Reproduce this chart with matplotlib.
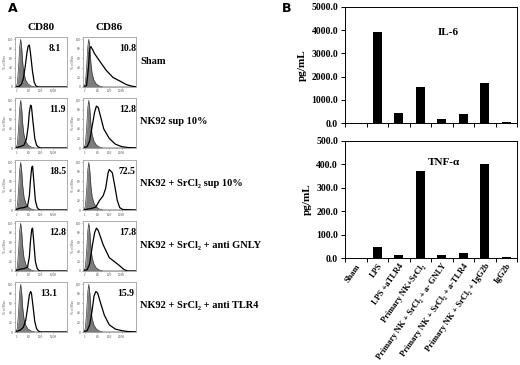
import numpy as np
import matplotlib
matplotlib.use("Agg")
import matplotlib.pyplot as plt

SERIF = ['Liberation Serif', 'DejaVu Serif']
plt.rcParams['font.family'] = SERIF

# ---------------- Panel A data (flow histograms) ----------------
markers = ["CD80", "CD86"]
conditions = ["Sham", "NK92 sup 10%", "NK92 + SrCl\u2082 sup 10%",
              "NK92 + SrCl\u2082 + anti GNLY", "NK92 + SrCl\u2082 + anti TLR4"]
pct_cd80 = ["8.1", "11.9", "18.5", "12.8", "13.1"]
pct_cd86 = ["10.8", "12.8", "72.5", "17.8", "15.9"]

# decade positions (log10 of fluorescence) and % of max
iso_dec = [-0.2, -0.02, 0.05, 0.15, 0.25, 0.33, 0.42, 0.5, 0.6, 0.75, 0.95, 1.2, 1.5, 4.3]
iso_pct = [0, 2, 8, 40, 85, 100, 80, 50, 28, 14, 6, 2, 0, 0]

cd80_dec = [
    [-0.2, 0.2, 0.4, 0.55, 0.7, 0.85, 0.95, 1.05, 1.15, 1.3, 1.45, 1.6, 1.8, 4.3],
    [-0.2, 0.3, 0.6, 0.8, 0.95, 1.05, 1.15, 1.22, 1.35, 1.5, 1.65, 1.8, 2.0, 4.3],
    [-0.2, 0.3, 0.6, 0.9, 1.05, 1.15, 1.25, 1.32, 1.42, 1.55, 1.7, 1.85, 2.0, 4.3],
    [-0.2, 0.3, 0.6, 0.9, 1.05, 1.15, 1.25, 1.32, 1.42, 1.55, 1.7, 1.85, 2.0, 4.3],
    [-0.2, 0.3, 0.55, 0.75, 0.9, 1.05, 1.15, 1.22, 1.35, 1.5, 1.65, 1.8, 2.0, 4.3],
]
cd80_pct = [
    [0, 1, 6, 18, 42, 72, 86, 88, 70, 35, 10, 2, 0, 0],
    [0, 3, 6, 18, 45, 75, 90, 88, 55, 20, 6, 2, 0, 0],
    [0, 4, 5, 8, 30, 65, 90, 92, 60, 20, 5, 1, 0, 0],
    [0, 4, 5, 8, 30, 65, 88, 90, 60, 20, 5, 1, 0, 0],
    [0, 4, 10, 25, 50, 78, 85, 82, 55, 22, 7, 2, 0, 0],
]
cd86_dec = [
    [-0.2, 0.15, 0.3, 0.4, 0.5, 0.65, 0.8, 1.2, 1.75, 2.3, 2.9, 3.4, 3.8, 4.3],
    [-0.2, 0.2, 0.4, 0.6, 0.8, 0.95, 1.1, 1.3, 1.55, 2.0, 2.5, 3.0, 3.5, 4.3],
    [-0.2, 0.5, 0.9, 1.2, 1.5, 1.7, 1.9, 2.0, 2.25, 2.45, 2.65, 2.85, 3.1, 4.3],
    [-0.2, 0.2, 0.4, 0.6, 0.8, 0.95, 1.1, 1.5, 2.0, 2.5, 2.8, 3.2, 3.5, 4.3],
    [-0.2, 0.2, 0.4, 0.6, 0.75, 0.9, 1.05, 1.3, 1.6, 2.0, 2.5, 3.0, 3.5, 4.3],
]
cd86_pct = [
    [0, 3, 40, 80, 85, 78, 70, 55, 35, 20, 12, 5, 2, 0],
    [0, 3, 15, 45, 75, 88, 85, 65, 40, 20, 8, 3, 1, 0],
    [0, 3, 6, 20, 30, 45, 78, 85, 78, 50, 20, 5, 1, 0],
    [0, 3, 15, 50, 80, 90, 85, 55, 28, 18, 12, 3, 0, 0],
    [0, 3, 15, 45, 75, 85, 82, 60, 35, 15, 6, 3, 1, 0],
]

# ---------------- Panel B data ----------------
categories = ["Sham", "LPS", "LPS +aTLR4", "Primary NK+SrCl\u2082",
              "Primary NK + SrCl\u2082 + a- GNLY", "Primary NK + SrCl\u2082 + a-TLR4",
              "Primary NK + SrCl\u2082 + IgG2b", "IgG2b"]
il6 = [0, 3930, 410, 1550, 190, 370, 1720, 30]
tnf = [0, 48, 12, 372, 12, 21, 402, 4]
il6_ticks = [0, 1000, 2000, 3000, 4000, 5000]
tnf_ticks = [0, 100, 200, 300, 400, 500]

W, H = 520, 365
fig = plt.figure(figsize=(W / 100, H / 100), dpi=100)


def ax_px(left, top, width, height):
    return fig.add_axes([left / W, 1 - (top + height) / H, width / W, height / H])


fig.text(8 / W, 1 - 8 / H, "A", fontsize=9, fontweight='bold', family='DejaVu Sans',
         ha='left', va='center')
fig.text(282 / W, 1 - 8 / H, "B", fontsize=9, fontweight='bold', family='DejaVu Sans',
         ha='left', va='center')

col_left = [15, 83]
col_w = [52, 53]
row_top = [37, 98, 160, 221, 282]
row_h = 50
pct_lbl = [pct_cd80, pct_cd86]
dec_all = [cd80_dec, cd86_dec]
pct_all = [cd80_pct, cd86_pct]
lbl_x = [[0.65, 0.65, 0.65, 0.65, 0.48], [0.68, 0.68, 0.67, 0.68, 0.65]]

for c in range(2):
    fig.text((col_left[c] + col_w[c] / 2) / W, 1 - 27 / H, markers[c], fontsize=8,
             fontweight='bold', ha='center', va='center')
    for r in range(5):
        ax = ax_px(col_left[c], row_top[r], col_w[c], row_h)
        xi = 10 ** np.array(iso_dec)
        ax.fill_between(xi, iso_pct, color='#7d7d7d', lw=0)
        ax.plot(xi, iso_pct, color='#3a3a3a', lw=0.5)
        xo = 10 ** np.array(dec_all[c][r])
        ax.plot(xo, pct_all[c][r], color='black', lw=0.9)
        ax.set_xscale('log')
        ax.set_xlim(0.72, 15000)
        ax.set_ylim(0, 105)
        ax.set_xticks([1, 10, 100, 1000])
        ax.set_xticklabels(["1", "10", "100", "1000"])
        ax.minorticks_off()
        ax.set_yticks([0, 20, 40, 60, 80, 100])
        ax.tick_params(labelsize=2.5, length=1, width=0.4, pad=0.8, colors='#444444')
        ax.set_ylabel("% of Max", fontsize=2.5, labelpad=0.5, color='#444444')
        for s in ax.spines.values():
            s.set_color('#a0a0a0')
            s.set_linewidth(0.6)
        ax.text(lbl_x[c][r], 0.77, pct_lbl[c][r], transform=ax.transAxes, fontsize=7,
                fontweight='bold', ha='left', va='center')

for r in range(5):
    fig.text(140 / W, 1 - (row_top[r] + 24) / H, conditions[r], fontsize=7.5,
             fontweight='bold', ha='left', va='center', family=SERIF)

# ---------------- Panel B ----------------
xpos = np.arange(len(categories))
axes_b = [ax_px(345, 7, 172, 116), ax_px(345, 141, 172, 117)]
vals = [il6, tnf]
ticks = [il6_ticks, tnf_ticks]
names = ["IL-6", "TNF-\u03b1"]
name_pos = [(0.54, 0.78), (0.48, 0.82)]
for i, ax in enumerate(axes_b):
    ax.bar(xpos, vals[i], width=0.43, color='black')
    ax.set_xlim(-0.5, len(categories) - 0.5)
    ax.set_ylim(ticks[i][0], ticks[i][-1])
    ax.set_yticks(ticks[i])
    ax.set_yticklabels(["%.1f" % t for t in ticks[i]], fontweight='bold')
    ax.tick_params(axis='y', labelsize=7, direction='out', length=3, width=0.7, pad=2)
    ax.set_xticks(np.arange(-0.5, len(categories)), minor=True)
    ax.tick_params(axis='x', which='minor', direction='out', length=3, width=0.7)
    ax.set_xticks(xpos)
    ax.tick_params(axis='x', which='major', length=0)
    ax.set_ylabel("pg/mL", fontsize=8, fontweight='bold', labelpad=3)
    for s in ax.spines.values():
        s.set_linewidth(0.7)
    ax.text(name_pos[i][0], name_pos[i][1], names[i], transform=ax.transAxes, fontsize=8,
            fontweight='bold', ha='left', va='center')

axes_b[0].set_xticklabels([])
axes_b[1].set_xticklabels(categories, rotation=55, ha='right', rotation_mode='anchor',
                          fontsize=6, fontweight='bold')
axes_b[1].tick_params(axis='x', which='major', pad=3)

fig.savefig("out.png", dpi=100)
